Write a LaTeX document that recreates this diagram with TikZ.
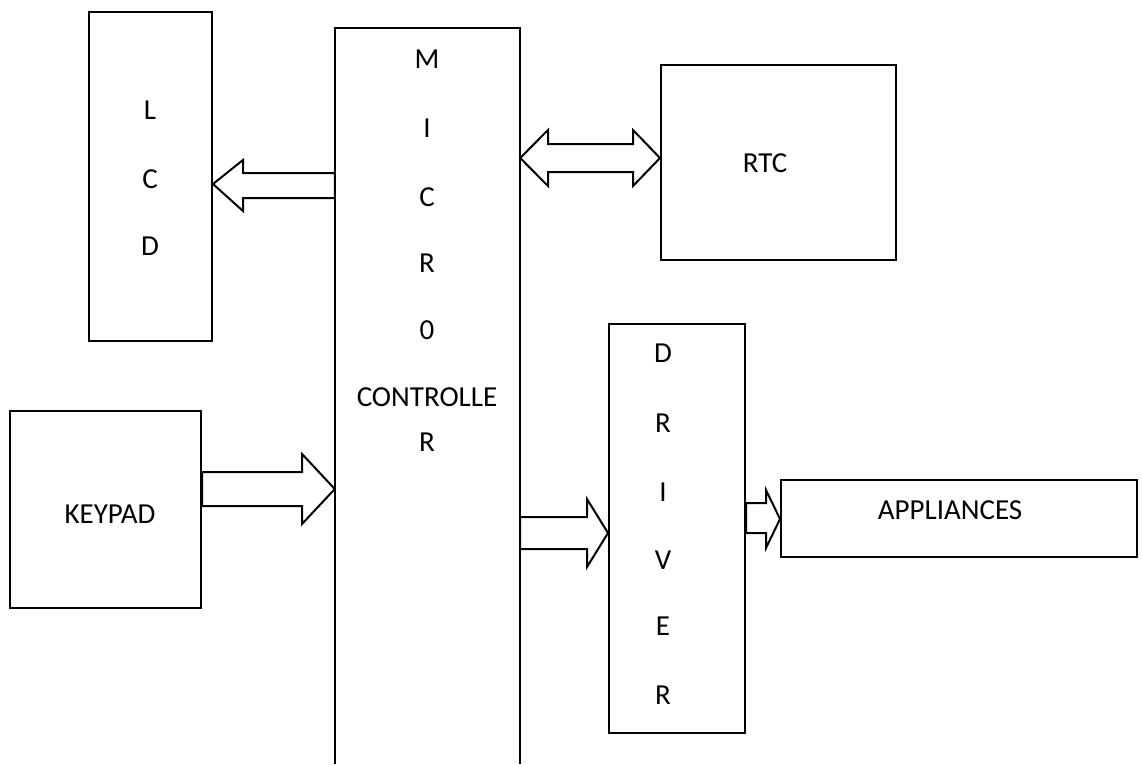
\documentclass[tikz,border=0pt]{standalone}
\usepackage{fontspec}
\setmainfont{Carlito}
\begin{document}
\begin{tikzpicture}[x=1pt,y=-1pt,
  box/.style={draw, line width=2pt, inner sep=0pt},
  lbl/.style={inner sep=0pt, font=\fontsize{29}{34}\selectfont},
  blk/.style={draw, line width=2pt, line join=miter, fill=white}]
\useasboundingbox (0,0) rectangle (1142,764);
% boxes
\node[box, minimum width=123pt, minimum height=329pt] (lcd) at (150.5,176.5) {};
\node[inner sep=0pt, minimum width=185pt, minimum height=736pt] (mc) at (427.5,396) {};
\draw[line width=2pt] (mc.south west) -- (mc.north west) -- (mc.north east) -- (mc.south east);
\node[box, minimum width=235pt, minimum height=195pt] (rtc) at (778.5,162.5) {};
\node[box, minimum width=191pt, minimum height=197pt] (kp) at (105.5,509.5) {};
\node[box, minimum width=136pt, minimum height=409pt] (drv) at (677,528.5) {};
\node[box, minimum width=356pt, minimum height=77pt] (app) at (959,518.5) {};
% labels
\foreach \t/\y [count=\i] in {L/110, C/179, D/246}
  \node[lbl] (lcdt\i) at (150,\y) {\t};
\foreach \t/\y [count=\i] in {M/59, I/128, C/197, R/263, 0/330, CONTROLLE/397, R/442}
  \node[lbl] (mct\i) at (427,\y) {\t};
\foreach \t/\y [count=\i] in {D/353, R/423, I/492, V/560, E/626, R/695}
  \node[lbl] (drvt\i) at (663,\y) {\t};
\node[lbl] (kpt) at (110,514) {KEYPAD};
\node[lbl] (rtct) at (765,163) {RTC};
\node[lbl] (appt) at (950,510) {APPLIANCES};
% block arrows
\draw[blk] (lcd.east |- 0,184) -- (243,160) -- (243,173) -- (mc.west |- 0,173)
  -- (mc.west |- 0,198) -- (243,198) -- (243,211) -- cycle;
\draw[blk] (mc.east |- 0,158) -- (548,130) -- (548,144) -- (633,144) -- (633,130)
  -- (rtc.west |- 0,158) -- (633,186) -- (633,172) -- (548,172) -- (548,186) -- cycle;
\draw[blk] (kp.east |- 0,472) -- (302,472) -- (302,454) -- (mc.west |- 0,489)
  -- (302,524) -- (302,506) -- (kp.east |- 0,506) -- cycle;
\draw[blk] (mc.east |- 0,517) -- (587,517) -- (587,499) -- (drv.west |- 0,533)
  -- (587,567) -- (587,549) -- (mc.east |- 0,549) -- cycle;
\draw[blk] (drv.east |- 0,503) -- (766,503) -- (766,490) -- (app.west |- 0,519)
  -- (766,548) -- (766,533) -- (drv.east |- 0,533) -- cycle;
\end{tikzpicture}
\end{document}
